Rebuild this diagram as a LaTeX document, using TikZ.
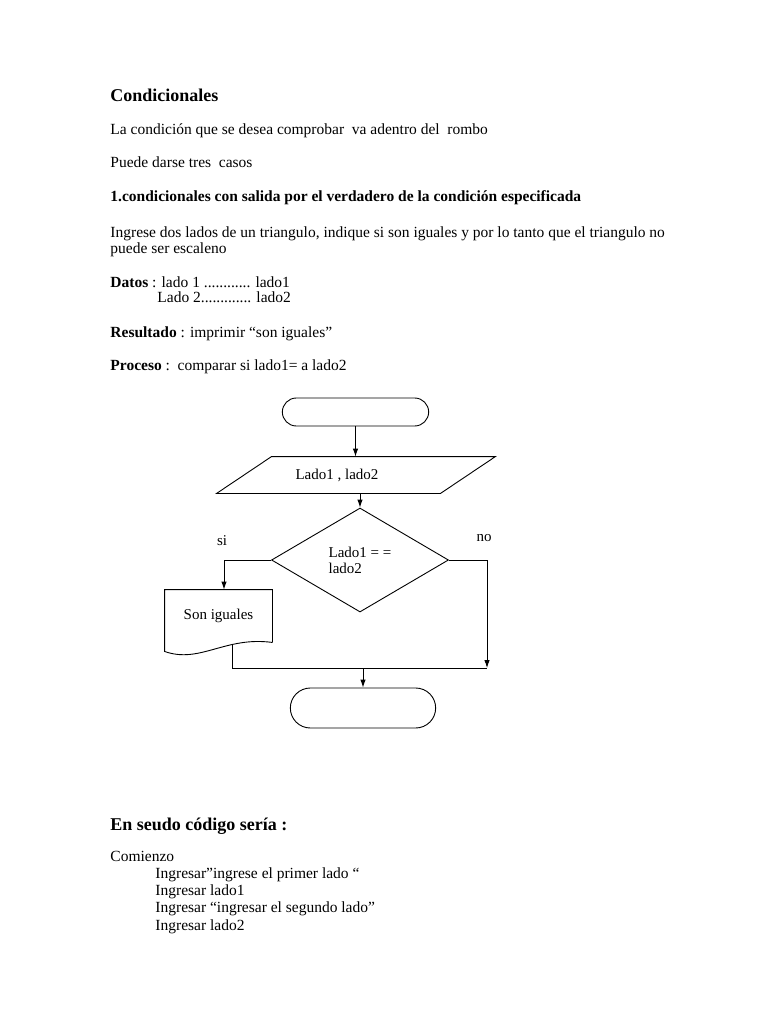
\documentclass[tikz,border=0pt]{standalone}
\usepackage{fontspec}
\setmainfont{Liberation Serif}
\usetikzlibrary{shapes.geometric, shapes.misc, arrows.meta, positioning, calc}

\tikzset{
  txt/.style={anchor=base west, inner sep=0pt, font=\fontsize{15.5}{17}\selectfont},
  headtxt/.style={anchor=base west, inner sep=0pt, font=\fontsize{18}{20}\selectfont\bfseries},
  flowtxt/.style={font=\fontsize{15}{16}\selectfont},
  terminal/.style={draw, rounded rectangle, minimum width=153pt, minimum height=28pt},
  iobox/.style={rectangle, minimum width=223pt, minimum height=36pt, inner sep=0pt},
  decision/.style={draw, diamond, minimum width=177pt, minimum height=104pt, inner sep=0pt, align=left, flowtxt},
  docbox/.style={rectangle, minimum width=107pt, minimum height=52pt, flowtxt}
}

\begin{document}
\begin{tikzpicture}[x=1pt, y=-1pt, >={Latex[length=8pt,width=5.5pt]}, line width=0.9pt]
  \useasboundingbox (0,0) rectangle (768,1024);

  % Page text
  \node[headtxt] (title) at (110,102) {Condicionales};
  \node[txt] (intro) at (110,135) {La condición que se desea comprobar\ \ va adentro del\ \ rombo};
  \node[txt] (casos) at (110,168) {Puede darse tres\ \ casos};
  \node[txt] (caso1) at (110,202) {\bfseries 1.condicionales con salida por el verdadero de la condición especificada};
  \node[txt] (enun1) at (110,237) {Ingrese dos lados de un triangulo, indique si son iguales y por lo tanto que el triangulo no};
  \node[txt] (enun2) at (110,253) {puede ser escaleno};
  \node[txt] (datos1) at (110,287) {\textbf{Datos} : lado 1 ............ lado1};
  \node[txt] (datos2) at (157,302) {Lado 2............. lado2};
  \node[txt] (result) at (110,337) {\textbf{Resultado} : imprimir “son iguales”};
  \node[txt] (proc) at (110,370) {\textbf{Proceso} :\ \ comparar si lado1= a lado2};

  % Flowchart
  \node[terminal] (start) at (355.5,412) {};
  \node[iobox] (input) at (356,475) {};
  \node[flowtxt] (inputtxt) at (337,475) {Lado1 , lado2};
  \node[decision] (cond) at (360,560) {Lado1 = =\\lado2};
  \node[docbox] (doc) at (218.5,616) {Son iguales};
  \node[terminal, minimum width=152pt, minimum height=40pt] (stop) at (363,708) {};
  \node[flowtxt] (si) at (222,541) {si};
  \node[flowtxt] (no) at (484,538) {no};
  \coordinate (mergeL) at (232,668);
  \coordinate (mergeR) at (487,668);

  % parallelogram and document outlines
  \draw ($(input.north west)+(27.5,0)$) -- ($(input.north east)+(27.5,0)$)
    -- ($(input.south east)+(-27.5,0)$) -- ($(input.south west)+(-27.5,0)$) -- cycle;
  \draw (doc.south east) -- (doc.north east) -- (doc.north west) -- ($(doc.south west)+(0,9)$)
    .. controls (200,664) and (225,636) .. (doc.south east);

  % Arrows
  \draw[->] (start) -- (start |- input.north);
  \draw[->] (cond.north |- input.south) -- (cond.north);
  \draw[->] (cond.west) -| ([xshift=5.5pt]doc.north);
  \draw[->] (cond.east) -| (mergeR);
  \draw ($(mergeL |- doc.south)+(0,3)$) -- (mergeL) -- (mergeR);
  \draw[->] (stop.north |- mergeL) -- (stop);

  % Pseudocode
  \node[headtxt] (seudo) at (110,830) {En seudo código sería :};
  \node[txt] (ps0) at (110,861) {Comienzo};
  \node[txt] (ps1) at (155,878) {Ingresar”ingrese el primer lado “};
  \node[txt] (ps2) at (155,895.5) {Ingresar lado1};
  \node[txt] (ps3) at (155,912) {Ingresar “ingresar el segundo lado”};
  \node[txt] (ps4) at (155,930) {Ingresar lado2};
\end{tikzpicture}
\end{document}
